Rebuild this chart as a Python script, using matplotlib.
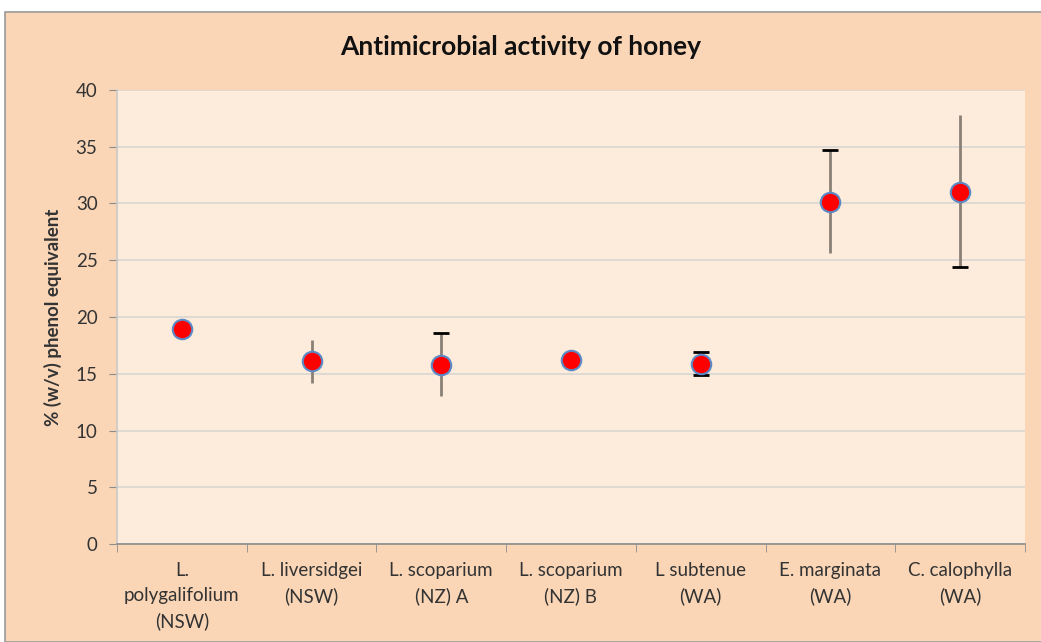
import numpy as np
import matplotlib
matplotlib.use("Agg")
import matplotlib.pyplot as plt
from matplotlib.patches import Rectangle

# --- data ---
labels = ["L.\npolygalifolium\n(NSW)", "L. liversidgei\n(NSW)", "L. scoparium\n(NZ) A",
          "L. scoparium\n(NZ) B", "L subtenue\n(WA)", "E. marginata\n(WA)", "C. calophylla\n(WA)"]
means = [18.9, 16.1, 15.8, 16.2, 15.9, 30.1, 31.0]
upper = [18.9, 18.0, 18.6, 16.2, 16.9, 34.7, 37.8]
lower = [18.9, 14.2, 13.0, 16.2, 14.9, 25.6, 24.4]
# which error-bar ends show a cap in the reference
cap_top = [False, False, True, False, True, True, False]
cap_bot = [False, False, False, False, True, False, True]

OUTER = "#fad6b6"
INNER = "#fdebdc"

plt.rcParams["font.family"] = ["Lato", "DejaVu Sans"]

fig = plt.figure(figsize=(10.41, 6.42), dpi=100, facecolor="white")
# chart-area frame (Excel style)
fig.patches.append(Rectangle((5 / 1041, 0), 1.0, 1 - 12 / 642, transform=fig.transFigure,
                             facecolor=OUTER, edgecolor="#9a9a9a", lw=1.2, zorder=-10))

ax = fig.add_axes([117 / 1041, 1 - 544 / 642, (1025 - 117) / 1041, (544 - 90) / 642])
ax.set_facecolor(INNER)

x = np.arange(len(means))
m = np.array(means)
yerr = [m - np.array(lower), np.array(upper) - m]
ax.errorbar(x, m, yerr=yerr, fmt="none", ecolor="#8a8076", elinewidth=2, capsize=0, zorder=2)
for i in x:
    if cap_top[i]:
        ax.plot(i, upper[i], marker="_", ms=12, mew=2, color="black", zorder=3)
    if cap_bot[i]:
        ax.plot(i, lower[i], marker="_", ms=12, mew=2, color="black", zorder=3)
ax.plot(x, m, "o", ms=14, mfc="#ff0000", mec="#5b8ac6", mew=1.5, ls="none", zorder=4)

ax.set_xlim(-0.5, len(means) - 0.5)
ax.set_ylim(0, 40)
ax.set_yticks(range(0, 41, 5))
ax.yaxis.grid(True, color="#d9d6d3", lw=1.2)
ax.set_axisbelow(True)

ax.set_xticks(x)
ax.set_xticklabels(labels, fontsize=13.5, color="#333333", linespacing=1.55)
ax.tick_params(axis="x", length=0, pad=13)
ax.set_xticks(np.arange(-0.5, len(means), 1), minor=True)
ax.tick_params(axis="x", which="minor", length=6, color="#8c8c8c", direction="out")
ax.tick_params(axis="y", length=6, color="#8c8c8c", labelsize=13.5, labelcolor="#333333", pad=8)

for s in ["top", "right"]:
    ax.spines[s].set_visible(False)
for s in ["left", "bottom"]:
    ax.spines[s].set_color("#8c8c8c")
    ax.spines[s].set_linewidth(1.2)
ax.spines["left"].set_color("#c9c9c9")

ax.set_ylabel("% (w/v) phenol equivalent", fontsize=13.5, fontweight="bold", color="#333333", labelpad=10)
fig.text(0.5, 1 - 47 / 642, "Antimicrobial activity of honey", ha="center", va="center",
         fontsize=19, fontweight="bold", color="#111111")

fig.savefig("out.png", dpi=100, facecolor=fig.get_facecolor())
